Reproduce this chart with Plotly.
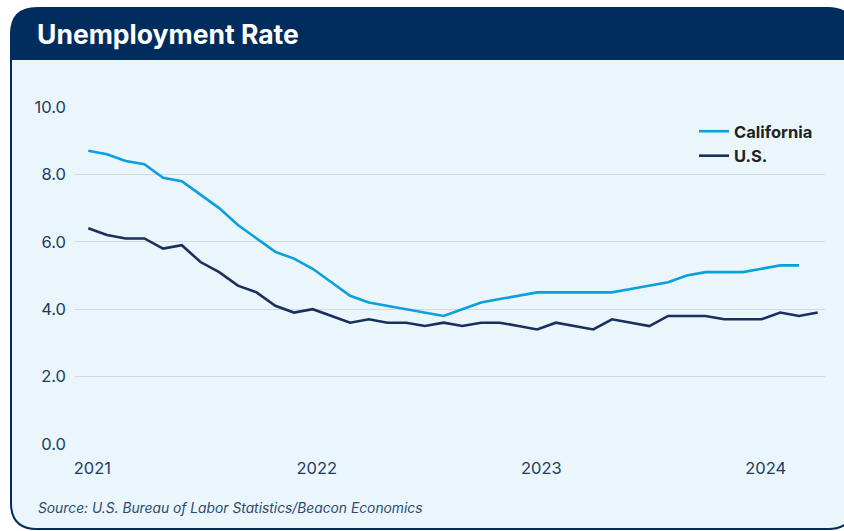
import plotly.graph_objects as go

# ---- data (monthly, Jan 2021 onward) ----
california = [8.7, 8.6, 8.4, 8.3, 7.9, 7.8, 7.4, 7.0, 6.5, 6.1, 5.7, 5.5,
              5.2, 4.8, 4.4, 4.2, 4.1, 4.0, 3.9, 3.8, 4.0, 4.2, 4.3, 4.4,
              4.5, 4.5, 4.5, 4.5, 4.5, 4.6, 4.7, 4.8, 5.0, 5.1, 5.1, 5.1,
              5.2, 5.3, 5.3]
us = [6.4, 6.2, 6.1, 6.1, 5.8, 5.9, 5.4, 5.1, 4.7, 4.5, 4.1, 3.9,
      4.0, 3.8, 3.6, 3.7, 3.6, 3.6, 3.5, 3.6, 3.5, 3.6, 3.6, 3.5,
      3.4, 3.6, 3.5, 3.4, 3.7, 3.6, 3.5, 3.8, 3.8, 3.8, 3.7, 3.7,
      3.7, 3.9, 3.8, 3.9]
year_labels = ["2021", "2022", "2023", "2024"]
y_ticks = [0, 2, 4, 6, 8, 10]

W, H = 844, 531
L, R, T, B = 75, 825, 107, 444  # plot area in px


def px(x):
    return (x - L) / (R - L)


def py(y):
    return (B - y) / (B - T)


NAVY = "#002d5e"
BG = "#eaf6fc"

# card outline path (paper coords)
rad = 26
x0, y0, x1, y1 = 11, 8, 854, 529
card = (f"M {px(x0)},{py(y0 + rad)} "
        f"Q {px(x0)},{py(y0)} {px(x0 + rad)},{py(y0)} "
        f"L {px(x1 - rad)},{py(y0)} "
        f"Q {px(x1)},{py(y0)} {px(x1)},{py(y0 + rad)} "
        f"L {px(x1)},{py(y1 - rad)} "
        f"Q {px(x1)},{py(y1)} {px(x1 - rad)},{py(y1)} "
        f"L {px(x0 + rad)},{py(y1)} "
        f"Q {px(x0)},{py(y1)} {px(x0)},{py(y1 - rad)} Z")
hy = 60
header = (f"M {px(x0)},{py(y0 + rad)} "
          f"Q {px(x0)},{py(y0)} {px(x0 + rad)},{py(y0)} "
          f"L {px(x1 - rad)},{py(y0)} "
          f"Q {px(x1)},{py(y0)} {px(x1)},{py(y0 + rad)} "
          f"L {px(x1)},{py(hy)} L {px(x0)},{py(hy)} Z")

fig = go.Figure()
fig.add_trace(go.Scatter(
    x=list(range(len(california))), y=california, mode="lines",
    name="California", line=dict(color="#0aa0dc", width=2.6)))
fig.add_trace(go.Scatter(
    x=list(range(len(us))), y=us, mode="lines",
    name="U.S.", line=dict(color="#1b2f5e", width=2.6)))

fig.update_layout(
    width=W, height=H,
    margin=dict(l=L, r=W - R, t=T, b=H - B, pad=0),
    paper_bgcolor="white",
    plot_bgcolor="rgba(0,0,0,0)",
    font=dict(family="Inter", color="#1d3b63"),
    showlegend=True,
    legend=dict(x=px(694), y=py(114), xanchor="left", yanchor="top",
                bgcolor="rgba(0,0,0,0)", itemwidth=30,
                font=dict(family="Inter", size=16.5, color="#222222", weight="bold"),
                tracegroupgap=0),
    shapes=[
        dict(type="path", path=card, xref="paper", yref="paper",
             fillcolor=BG, line=dict(color=NAVY, width=2), layer="below"),
        dict(type="path", path=header, xref="paper", yref="paper",
             fillcolor=NAVY, line=dict(color=NAVY, width=0), layer="below"),
    ],
    annotations=[
        dict(text="Unemployment Rate", x=px(35), y=py(34), xref="paper", yref="paper",
             xanchor="left", yanchor="middle", showarrow=False,
             font=dict(family="Inter", size=26.5, color="white", weight="bold")),
        dict(text="<i>Source: U.S. Bureau of Labor Statistics/Beacon Economics</i>",
             x=px(36), y=py(508), xref="paper", yref="paper",
             xanchor="left", yanchor="middle", showarrow=False,
             font=dict(family="Inter", size=13.8, color="#2b4a70")),
    ],
)

tick_idx = [12 * i + 0.22 for i in range(len(year_labels))]
fig.update_xaxes(range=[-0.71, 39.39], tickvals=tick_idx, ticktext=year_labels,
                 showgrid=False, zeroline=False, showline=False, ticks="",
                 tickfont=dict(size=16.5, color="#1d3b63"), ticklabelstandoff=12)
fig.update_yaxes(range=[0, 10], tickvals=y_ticks,
                 ticktext=[f"{v:.1f}" for v in y_ticks],
                 showgrid=True, gridcolor="#d3d9df", gridwidth=1,
                 zeroline=False, showline=False, ticks="",
                 tickfont=dict(size=16.5, color="#1d3b63"), ticklabelstandoff=8)

fig.write_html("out.html")
